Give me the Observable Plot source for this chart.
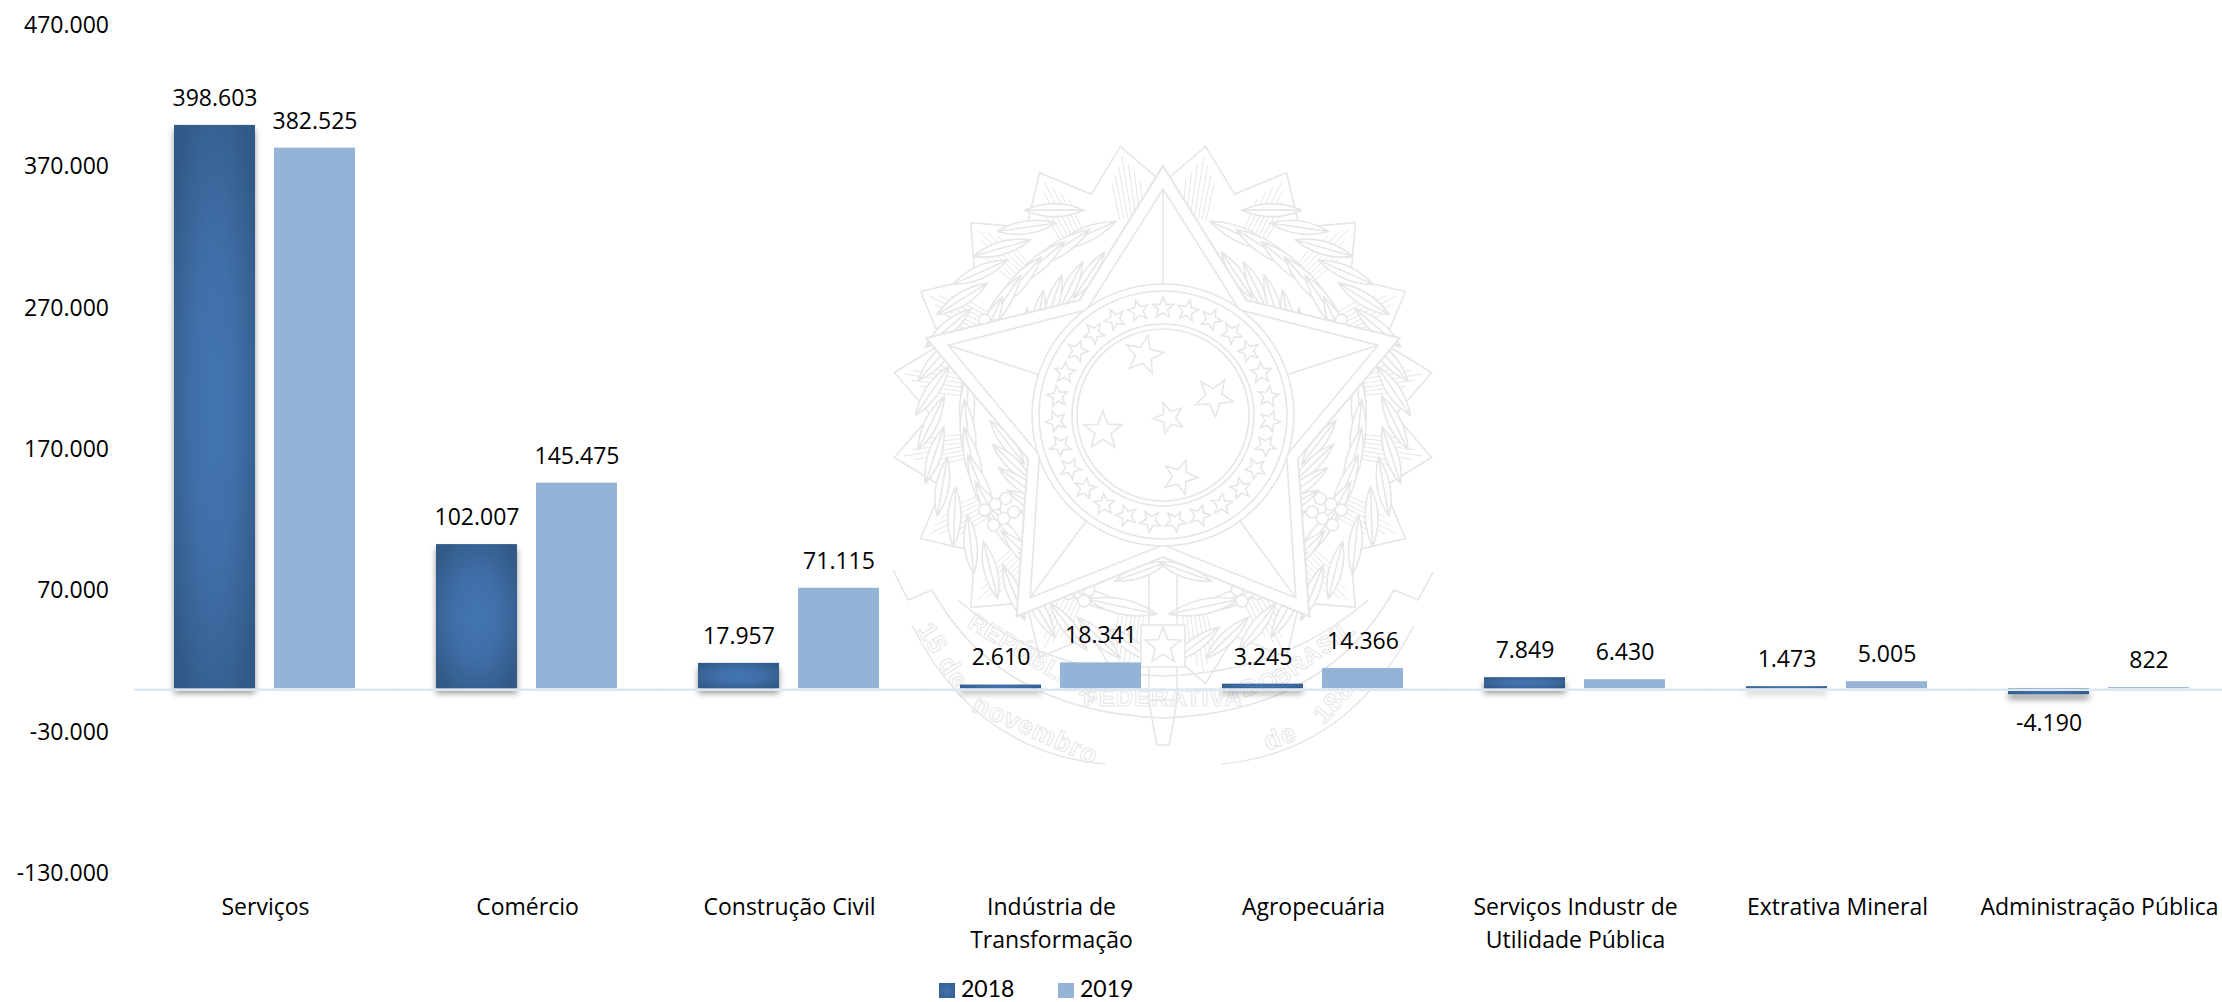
<!DOCTYPE html>
<html lang="pt-BR">
<head>
<meta charset="utf-8">
<script src="https://cdn.jsdelivr.net/npm/d3@7"></script>
<script src="https://cdn.jsdelivr.net/npm/@observablehq/plot@0.6"></script>
<style>
html,body{margin:0;padding:0;background:#fff;overflow:hidden}
#page{position:relative;width:2222px;height:1002px;overflow:hidden;font-family:"Open Sans",sans-serif;color:#000}
#crest{position:absolute;left:0;top:0}
#chart{position:absolute;left:0;top:0}
#legend{position:absolute;left:0;top:975px;width:2222px;height:26px}
#legend i{position:absolute;top:8px;width:16px;height:15px}
#legend span{position:absolute;top:0;font-family:Lato,sans-serif;font-size:23px;line-height:26px}
</style>
</head>
<body>
<div id="page">
  <svg id="crest" width="2222" height="1002" aria-hidden="true"></svg>
  <div id="chart"></div>
  <div id="legend"></div>
</div>
<script>
const categories = ["Serviços","Comércio","Construção Civil","Indústria de\nTransformação","Agropecuária","Serviços Industr de\nUtilidade Pública","Extrativa Mineral","Administração Pública"];
const values2018 = [398603,102007,17957,2610,3245,7849,1473,-4190];
const values2019 = [382525,145475,71115,18341,14366,6430,5005,822];
const years = [2018,2019];
const yTicks = [-130000,-30000,70000,170000,270000,370000,470000];
const colorDark = "url(#barGradient)";
const colorLight = "#95B3D7";
const colorRule = "#DCE6F5";

const rows = (vals, year) => vals.map((value,i) => ({category:categories[i], year, value}));
const data2018 = rows(values2018, 2018);
const data2019 = rows(values2019, 2019);
const all = data2018.concat(data2019);
const fmt = d3.formatLocale({decimal:",",thousands:".",grouping:[3],currency:["",""],minus:"-"}).format(",d");

/* decorative watermark behind the chart (coat of arms) */
(function crest(){
  const s = d3.select("#crest");
  const defs = s.append("defs");
  const g = defs.append("radialGradient").attr("id","barGradient").attr("cx",.5).attr("cy",.5).attr("r",.62);
  g.append("stop").attr("offset","0%").attr("stop-color","#4275B2");
  g.append("stop").attr("offset","45%").attr("stop-color","#3F6FA8");
  g.append("stop").attr("offset","100%").attr("stop-color","#325A88");
  const cx=1163, cy=415, ink="#E6E6E6";
  const root = s.append("g").attr("fill","none").attr("stroke",ink).attr("stroke-width",1.6);
  const P = (r,a)=>[cx+r*Math.sin(a),cy-r*Math.cos(a)];
  const star = (x,y,R,r,rot=0)=>d3.range(10).map(i=>{
    const a=rot+i*Math.PI/5, q=i%2?r:R; return [x+q*Math.sin(a),y-q*Math.cos(a)];
  }).join(" ");
  // rays
  const rays = d3.range(20).flatMap(i=>{
    const a=(i+.5)*Math.PI/10, b=(i+1)*Math.PI/10;
    return [P(272,a),P(232,b)];
  });
  root.append("polygon").attr("points",rays.join(" ")).attr("fill","#fff");
  const hatch = root.append("g").attr("stroke-width",1);
  d3.range(20).forEach(i=>{
    const a=(i+.5)*Math.PI/10;
    [-.06,-.04,-.02,0,.02,.04,.06].forEach(o=>{
      const [x1,y1]=P(262-Math.abs(o)*440,a+o), [x2,y2]=P(200,a+o);
      hatch.append("line").attr("x1",x1).attr("y1",y1).attr("x2",x2).attr("y2",y2);
    });
  });
  // wreath
  const leaf = (r,aDeg,tilt,len,wid)=>{
    const a=aDeg*Math.PI/180,[x,y]=P(r,a);
    const t=root.append("g").attr("transform",`translate(${x},${y}) rotate(${aDeg+tilt})`);
    t.append("path").attr("d",`M0 ${-len} Q ${wid} 0 0 ${len} Q ${-wid} 0 0 ${-len} M0 ${-len} V${len}`).attr("fill","#fff");
  };
  [-1,1].forEach(side=>{
    for(let d=24;d<=168;d+=8){
      leaf(232,side*(d+4),side*62,30,13);
      leaf(158,side*(d+4),side*118,28,12);
      leaf(196,side*d,side*90,36,15);
    }
    [62,118,152].forEach(d=>{
      d3.range(6).forEach(k=>{
        const [x,y]=P(178+(k%3)*12,side*(d+Math.floor(k/3)*5)*Math.PI/180);
        root.append("circle").attr("cx",x).attr("cy",y).attr("r",6).attr("fill","#fff");
      });
    });
  });
  // big star
  root.append("polygon").attr("points",star(cx,cy,249,142)).attr("fill","#fff").attr("stroke-width",2);
  root.append("polygon").attr("points",star(cx,cy,226,130)).attr("fill","#fff");
  d3.range(5).forEach(i=>{
    const a=i*2*Math.PI/5,[x1,y1]=P(226,a),[x2,y2]=P(130,a);
    root.append("line").attr("x1",x1).attr("y1",y1).attr("x2",x2).attr("y2",y2);
  });
  // discs
  [[131,"#fff"],[124,"#fff"],[91,"#fff"],[86,"#fff"]].forEach(([r,f])=>{
    root.append("circle").attr("cx",cx).attr("cy",cy).attr("r",r).attr("fill",f);
  });
  d3.range(27).forEach(i=>{
    const a=i*2*Math.PI/27,[x,y]=P(107,a);
    root.append("polygon").attr("points",star(x,y,11,4.8,a));
  });
  [[1144,355,20],[1214,397,20],[1169,418,16],[1103,431,20],[1180,477,18]].forEach(([x,y,r],i)=>{
    root.append("polygon").attr("points",star(x,y,r,r*.42,.2+i*.35));
  });
  // sword
  root.append("path").attr("d",`M${cx-14} 575 V700 H${cx+14} V575`);
  root.append("path").attr("d",`M${cx-14} 700 L${cx-10} 725 L${cx-6} 745 H${cx+6} L${cx+10} 725 L${cx+14} 700`);
  root.append("rect").attr("x",cx-22).attr("y",625).attr("width",44).attr("height",42).attr("fill","#fff");
  root.append("polygon").attr("points",star(cx,646,19,8));
  // ribbon
  root.append("path").attr("d","M893 570 L908 600 L932 590 Q1000 712 1163 718 Q1326 712 1394 590 L1418 600 L1433 572");
  root.append("path").attr("d","M912 625 Q975 752 1105 764 M1221 764 Q1350 752 1414 625");
  root.append("path").attr("d","M958 600 Q1040 672 1163 676 Q1286 672 1368 600");
  // ribbon lettering, word by word
  const words = [
    ["REPÚBLICA",1030,665,31,24],["FEDERATIVA",1163,706,0,24],["DO",1262,692,-17,24],["BRASIL",1318,660,-36,24],
    ["15 de",936,660,58,26],["novembro",1032,738,24,26],["de",1283,745,-22,26],["1889",1345,702,-48,26]
  ];
  words.forEach(([w,x,y,r,size])=>{
    root.append("text").attr("transform",`translate(${x},${y}) rotate(${r})`).attr("text-anchor","middle")
      .attr("font-family","Liberation Sans").attr("font-weight","bold").attr("font-size",size)
      .attr("letter-spacing",1).attr("stroke-width",1).text(w);
  });
})();

const shadow = "drop-shadow(0px 5px 3px rgba(0,0,0,.42))";
const plot = Plot.plot({
  width: 2230, height: 965,
  marginLeft: 134, marginRight: 0, marginTop: 24, marginBottom: 93,
  style: {background:"transparent", maxWidth:"none", fontFamily:'"Open Sans",sans-serif', fontSize:"23px", color:"#000", overflow:"visible"},
  fx: {domain: categories, paddingInner: 80/262, paddingOuter: 40/262, label: null},
  x: {domain: years, paddingInner: 19/100.5, paddingOuter: 0, axis: null},
  y: {domain: [-130000,470000], label: null},
  marks: [
    Plot.axisY({ticks: yTicks, tickSize: 0, tickPadding: 65.5, tickFormat: fmt, label: null, fontSize: 23, dy: 1}),
    Plot.axisFx({anchor:"bottom", tickSize: 0, tickPadding: 19, label: null, lineHeight: 1.43, fontSize: 23, lineAnchor:"top"}),
    Plot.barY(data2018, {fx:"category", x:"year", y:"value", fill: colorDark, imageFilter: shadow}),
    Plot.barY(data2019, {fx:"category", x:"year", y:"value", fill: colorLight}),
    Plot.ruleY([0], {stroke: colorRule, strokeWidth: 2.4, insetLeft: -40, insetRight: -41, dy: 1}),
    Plot.text(all.filter(d=>d.value>=0), {fx:"category", x:"year", y:"value", text:d=>fmt(d.value), dy:-27, fill:"#000", fontSize:23}),
    Plot.text(all.filter(d=>d.value<0), {fx:"category", x:"year", y:"value", text:d=>fmt(d.value), dy:29, fill:"#000", fontSize:23})
  ]
});
document.getElementById("chart").appendChild(plot);

const legend = d3.select("#legend");
[[939,961,years[0],"radial-gradient(circle,#4275B2,#325A88)"],[1058,1080,years[1],colorLight]].forEach(([sx,tx,label,bg])=>{
  legend.append("i").style("left",sx+"px").style("background",bg);
  legend.append("span").style("left",tx+"px").text(label);
});
</script>
</body>
</html>
